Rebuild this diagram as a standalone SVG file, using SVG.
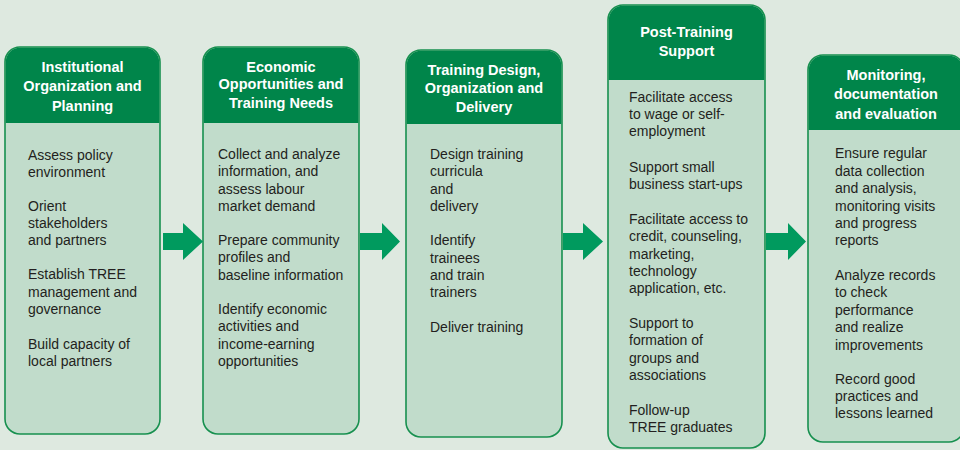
<svg xmlns="http://www.w3.org/2000/svg" width="960" height="450" viewBox="0 0 960 450">
<style>
.body{fill:#c1dccb;stroke:#17904f;stroke-width:1.6}
.head{fill:#00854a}
.ht{font-family:"Liberation Sans",Arial,sans-serif;font-size:14.5px;font-weight:bold;fill:#ffffff;text-anchor:middle}
.bt{font-family:"Liberation Sans",Arial,sans-serif;font-size:14px;fill:#231f20}
.arrow{fill:#009a5e}
</style>
<rect x="0" y="0" width="960" height="450" fill="#dee9e0"/>
<g id="node1">
<rect class="body" x="5" y="47" width="155" height="387" rx="15"/>
<path class="head" d="M5.8,123 V62 A14.2,14.2 0 0 1 20,47.8 H145 A14.2,14.2 0 0 1 159.2,62 V123 Z"/>
<text class="ht" x="82.5" y="72">Institutional</text>
<text class="ht" x="82.5" y="91">Organization and</text>
<text class="ht" x="82.5" y="111">Planning</text>
<text class="bt" x="28" y="160">Assess policy</text>
<text class="bt" x="28" y="177">environment</text>
<text class="bt" x="28" y="211">Orient</text>
<text class="bt" x="28" y="228">stakeholders</text>
<text class="bt" x="28" y="245">and partners</text>
<text class="bt" x="28" y="279">Establish TREE</text>
<text class="bt" x="28" y="297">management and</text>
<text class="bt" x="28" y="314">governance</text>
<text class="bt" x="28" y="349">Build capacity of</text>
<text class="bt" x="28" y="366">local partners</text>
</g>
<g id="node2">
<rect class="body" x="203" y="47" width="156" height="387" rx="15"/>
<path class="head" d="M203.8,123 V62 A14.2,14.2 0 0 1 218,47.8 H344 A14.2,14.2 0 0 1 358.2,62 V123 Z"/>
<text class="ht" x="281" y="72">Economic</text>
<text class="ht" x="281" y="89">Opportunities and</text>
<text class="ht" x="281" y="108">Training Needs</text>
<text class="bt" x="218" y="159">Collect and analyze</text>
<text class="bt" x="218" y="176">information, and</text>
<text class="bt" x="218" y="194">assess labour</text>
<text class="bt" x="218" y="211">market demand</text>
<text class="bt" x="218" y="245">Prepare community</text>
<text class="bt" x="218" y="262">profiles and</text>
<text class="bt" x="218" y="280">baseline information</text>
<text class="bt" x="218" y="314">Identify economic</text>
<text class="bt" x="218" y="331">activities and</text>
<text class="bt" x="218" y="349">income-earning</text>
<text class="bt" x="218" y="366">opportunities</text>
</g>
<g id="node3">
<rect class="body" x="406" y="50" width="156" height="387" rx="15"/>
<path class="head" d="M406.8,124 V65 A14.2,14.2 0 0 1 421,50.8 H547 A14.2,14.2 0 0 1 561.2,65 V124 Z"/>
<text class="ht" x="484" y="75">Training Design,</text>
<text class="ht" x="484" y="93">Organization and</text>
<text class="ht" x="484" y="112">Delivery</text>
<text class="bt" x="430" y="159">Design training</text>
<text class="bt" x="430" y="176">curricula</text>
<text class="bt" x="430" y="194">and</text>
<text class="bt" x="430" y="211">delivery</text>
<text class="bt" x="430" y="245">Identify</text>
<text class="bt" x="430" y="263">trainees</text>
<text class="bt" x="430" y="280">and train</text>
<text class="bt" x="430" y="297">trainers</text>
<text class="bt" x="430" y="332">Deliver training</text>
</g>
<g id="node4">
<rect class="body" x="608" y="5" width="157" height="443" rx="15"/>
<path class="head" d="M608.8,80 V20 A14.2,14.2 0 0 1 623,5.8 H750 A14.2,14.2 0 0 1 764.2,20 V80 Z"/>
<text class="ht" x="686.5" y="37">Post-Training</text>
<text class="ht" x="686.5" y="56">Support</text>
<text class="bt" x="629" y="102">Facilitate access</text>
<text class="bt" x="629" y="119">to wage or self-</text>
<text class="bt" x="629" y="136">employment</text>
<text class="bt" x="629" y="172">Support small</text>
<text class="bt" x="629" y="189">business start-ups</text>
<text class="bt" x="629" y="224">Facilitate access to</text>
<text class="bt" x="629" y="241">credit, counseling,</text>
<text class="bt" x="629" y="259">marketing,</text>
<text class="bt" x="629" y="276">technology</text>
<text class="bt" x="629" y="293">application, etc.</text>
<text class="bt" x="629" y="328">Support to</text>
<text class="bt" x="629" y="345">formation of</text>
<text class="bt" x="629" y="363">groups and</text>
<text class="bt" x="629" y="380">associations</text>
<text class="bt" x="629" y="415">Follow-up</text>
<text class="bt" x="629" y="432">TREE graduates</text>
</g>
<g id="node5">
<rect class="body" x="808" y="55" width="156" height="387" rx="15"/>
<path class="head" d="M808.8,130 V70 A14.2,14.2 0 0 1 823,55.8 H949 A14.2,14.2 0 0 1 963.2,70 V130 Z"/>
<text class="ht" x="886" y="80">Monitoring,</text>
<text class="ht" x="886" y="99">documentation</text>
<text class="ht" x="886" y="119">and evaluation</text>
<text class="bt" x="835" y="158">Ensure regular</text>
<text class="bt" x="835" y="176">data collection</text>
<text class="bt" x="835" y="193">and analysis,</text>
<text class="bt" x="835" y="211">monitoring visits</text>
<text class="bt" x="835" y="228">and progress</text>
<text class="bt" x="835" y="245">reports</text>
<text class="bt" x="835" y="280">Analyze records</text>
<text class="bt" x="835" y="297">to check</text>
<text class="bt" x="835" y="315">performance</text>
<text class="bt" x="835" y="332">and realize</text>
<text class="bt" x="835" y="350">improvements</text>
<text class="bt" x="835" y="384">Record good</text>
<text class="bt" x="835" y="401">practices and</text>
<text class="bt" x="835" y="418">lessons learned</text>
</g>
<g id="connectors">
<polygon class="arrow" points="163,233 183,233 183,223 203,241.5 183,260 183,250 163,250"/>
<polygon class="arrow" points="360,233 382,233 382,223 400,241.5 382,260 382,250 360,250"/>
<polygon class="arrow" points="563,233 583,233 583,223 603,241.5 583,260 583,250 563,250"/>
<polygon class="arrow" points="766,233 788,233 788,223 806,241.5 788,260 788,250 766,250"/>
</g>
</svg>
